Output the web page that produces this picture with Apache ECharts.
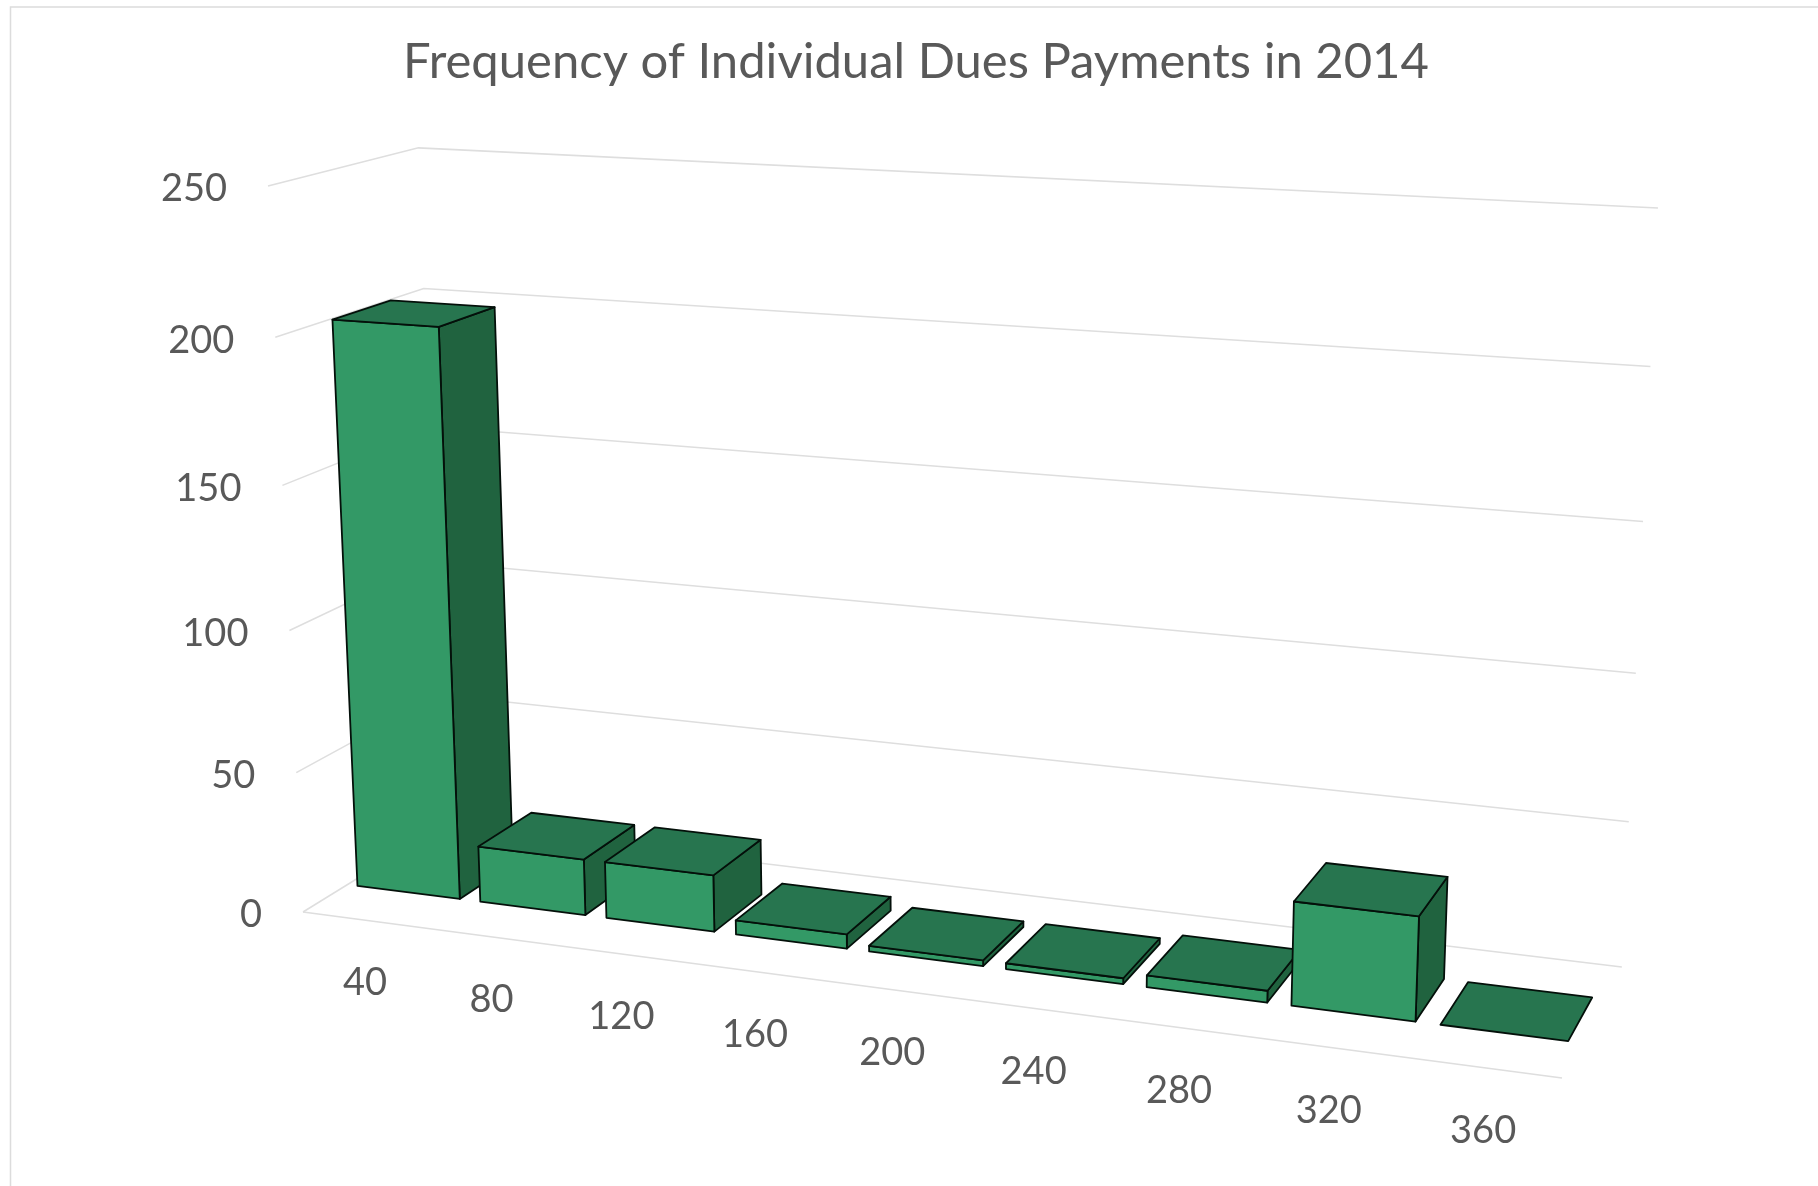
<!DOCTYPE html>
<html lang="en">

<head>
    <meta charset="UTF-8">
    <title>Frequency of Individual Dues Payments in 2014</title>
    <style>
        html, body { margin: 0; padding: 0; background: #fff; }
    </style>
</head>

<body>
    <div id="main" style="width: 1818px; height: 1186px"></div>
    <script src="https://cdn.jsdelivr.net/npm/echarts@6/dist/echarts.min.js"></script>
    <script type="text/javascript">
        // chart data
        var chartTitle = 'Frequency of Individual Dues Payments in 2014';
        var categories = ['40', '80', '120', '160', '200', '240', '280', '320', '360'];
        var duesCounts = [201, 20, 20, 5, 2, 2, 4, 35, 0];
        var yTicks = [0, 50, 100, 150, 200, 250];

        // the look of the excel 3d box: screen position of its corners + perspective terms
        var cornerO = [303, 912];
        var cornerX = [1562, 1078];
        var cornerY = [268, 186];
        var cornerZ = [444, 825];
        var persp = { x: -0.12, y: -0.05, z: 0.075 };

        var barShare = 0.835;
        var barFront = 0.30;
        var barBack = 0.695;

        var FONT = 'Lato, "Open Sans", sans-serif';
        var TEXT_COLOR = '#595959';
        var GRID_COLOR = '#dedede';

        function axisVec(corner, p) {
            return [(1 + p) * corner[0] - cornerO[0], (1 + p) * corner[1] - cornerO[1]];
        }
        var vecX = axisVec(cornerX, persp.x);
        var vecY = axisVec(cornerY, persp.y);
        var vecZ = axisVec(cornerZ, persp.z);

        // u,v,w are 0..1 along category axis, value axis and depth
        function project(u, v, w) {
            var d = 1 + persp.x * u + persp.y * v + persp.z * w;
            return [
                (vecX[0] * u + vecY[0] * v + vecZ[0] * w + cornerO[0]) / d,
                (vecX[1] * u + vecY[1] * v + vecZ[1] * w + cornerO[1]) / d
            ];
        }

        // go from the hidden grid's pixels to box coordinates
        function toBox(params, pt) {
            var r = params.coordSys;
            return [(pt[0] - r.x) / r.width, 1 - (pt[1] - r.y) / r.height];
        }

        function face(points, color) {
            return {
                type: 'polygon',
                shape: { points: points },
                style: { fill: color, stroke: '#04100a', lineWidth: 1.8, lineJoin: 'round' },
                silent: true
            };
        }

        function renderBar(params, api) {
            var idx = api.value(0);
            var val = api.value(1);
            var half = api.size([1, 0])[0] * barShare / 2;
            var c = api.coord([idx, val]);
            var b = toBox(params, [c[0] - half, c[1]]);
            var e = toBox(params, [c[0] + half, c[1]]);
            var u0 = b[0], u1 = e[0], v = b[1];

            var fl = project(u0, 0, barFront), fr = project(u1, 0, barFront), br = project(u1, 0, barBack);
            var tfl = project(u0, v, barFront), tfr = project(u1, v, barFront);
            var tbl = project(u0, v, barBack), tbr = project(u1, v, barBack);

            var kids = [];
            if (val > 0) {
                kids.push(face([fr, br, tbr, tfr], '#20633f'));
                kids.push(face([fl, fr, tfr, tfl], '#339966'));
            }
            kids.push(face([tfl, tfr, tbr, tbl], '#27754f'));
            return { type: 'group', children: kids };
        }

        function gridLine(points) {
            return {
                type: 'polyline',
                shape: { points: points },
                style: { fill: 'none', stroke: GRID_COLOR, lineWidth: 1.5 },
                silent: true
            };
        }

        function renderGrid(params, api) {
            var val = api.value(1);
            var c = api.coord([0, val]);
            var v = toBox(params, c)[1];
            var start = project(0, v, 0);
            var kids = [gridLine([start, project(0, v, 1), project(1, v, 1)])];
            if (val === 0) {
                kids.push(gridLine([start, project(1, 0, 0)]));
            }
            kids.push({
                type: 'text',
                style: {
                    text: String(val),
                    x: start[0] - 41,
                    y: start[1] + 3,
                    textAlign: 'right',
                    textVerticalAlign: 'middle',
                    fontFamily: FONT,
                    fontSize: 38,
                    fill: TEXT_COLOR
                },
                silent: true
            });
            return { type: 'group', children: kids };
        }

        function renderCatLabel(params, api) {
            var idx = api.value(0);
            var u = toBox(params, api.coord([idx, 0]))[0];
            var p = project(u, 0, 0);
            return {
                type: 'text',
                style: {
                    text: categories[idx],
                    x: p[0],
                    y: p[1] + 63,
                    textAlign: 'center',
                    textVerticalAlign: 'middle',
                    fontFamily: FONT,
                    fontSize: 38,
                    fill: TEXT_COLOR
                },
                silent: true
            };
        }

        var myChart = echarts.init(document.getElementById('main'));

        var option = {
            animation: false,
            backgroundColor: '#fff',
            title: {
                text: chartTitle,
                left: 911,
                top: 57,
                textAlign: 'center',
                textVerticalAlign: 'middle',
                textStyle: { fontFamily: FONT, fontSize: 49, fontWeight: 'normal', color: TEXT_COLOR }
            },
            graphic: [{
                type: 'rect',
                shape: { x: 10.5, y: 7, width: 1900, height: 1300 },
                style: { fill: 'none', stroke: '#dcdcdc', lineWidth: 1.5 },
                silent: true,
                z: -1
            }],
            grid: { left: 300, right: 160, top: 200, bottom: 110 },
            xAxis: { type: 'category', data: categories, show: false },
            yAxis: { type: 'value', min: 0, max: 250, interval: 50, show: false },
            series: [{
                type: 'custom',
                renderItem: renderGrid,
                data: yTicks.map(function(t) { return [0, t]; }),
                z: 1
            }, {
                type: 'custom',
                renderItem: renderCatLabel,
                data: categories.map(function(c, i) { return [i, 0]; }),
                z: 1
            }, {
                type: 'custom',
                renderItem: renderBar,
                data: duesCounts.map(function(n, i) { return [i, n]; }),
                z: 2
            }]
        };
        myChart.setOption(option);
    </script>

</body>

</html>
